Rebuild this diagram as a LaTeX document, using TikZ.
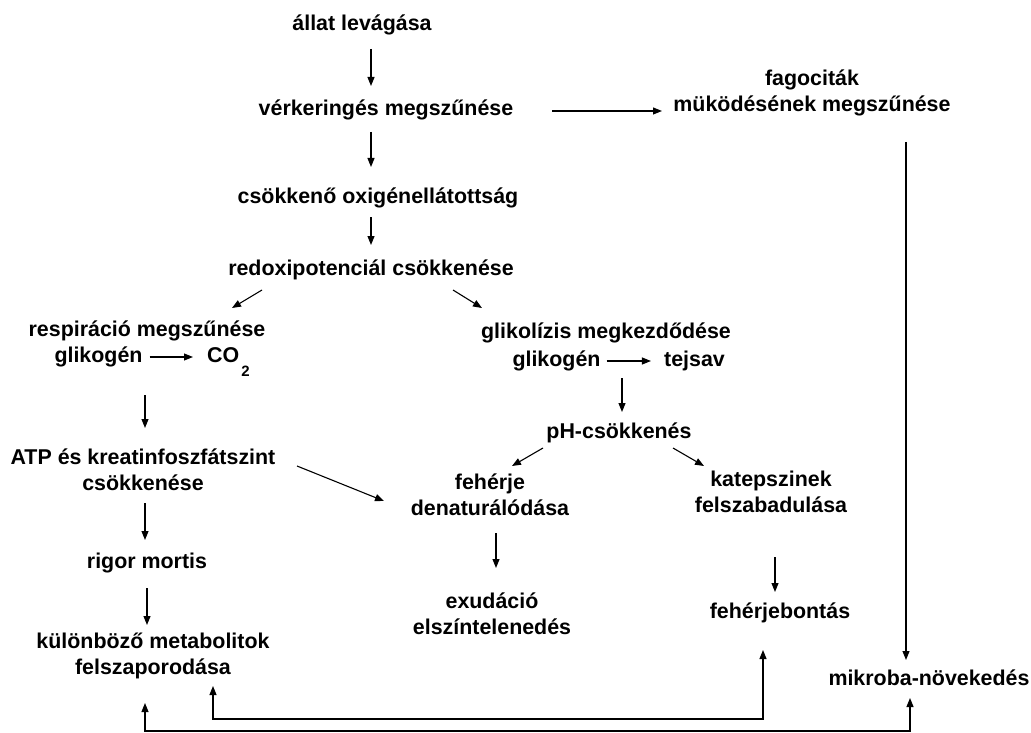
\documentclass[tikz,border=0pt]{standalone}
\usepackage{fontspec}
\setmainfont{Liberation Sans}
\usepackage{tikz}
\usetikzlibrary{arrows.meta}
\tikzset{
  szoveg/.style={font=\bfseries\fontsize{21.4}{26}\selectfont, inner sep=0pt, align=center},
  egysor/.style={szoveg, text height=16pt, text depth=5pt},
  nyil/.style={-{Triangle[length=9pt,width=7pt]}, line width=1.1pt},
  ketnyil/.style={{Triangle[length=9pt,width=7pt]}-{Triangle[length=9pt,width=7pt]}, line width=1.1pt}
}

\begin{document}
\begin{tikzpicture}[x=1pt,y=-1pt]
    \useasboundingbox (0,0) rectangle (1031,733);

    % Main chain
    \node[egysor] (levagas) at (362,25) {állat levágása};
    \node[egysor] (verkering) at (386,110) {vérkeringés megszűnése};
    \node[egysor] (oxigen) at (378,198) {csökkenő oxigénellátottság};
    \node[egysor] (redox) at (371,270) {redoxipotenciál csökkenése};
    \node[szoveg] (fagocit) at (812,92.5) {fagociták\\müködésének megszűnése};

    % Left branch - respiration
    \node[egysor] (respir) at (147,331) {respiráció megszűnése};
    \node[egysor] (glik1) at (98.5,357) {glikogén};
    \node[egysor, anchor=west] (co2) at (207,357) {CO\kern2pt\raisebox{-14pt}{\fontsize{15}{15}\selectfont 2}};
    \node[szoveg] (atp) at (143,470) {ATP és kreatinfoszfátszint\\csökkenése};
    \node[egysor] (rigor) at (147,563) {rigor mortis};
    \node[szoveg] (metabol) at (153,656) {különböző metabolitok\\felszaporodása};

    % Right branch - glycolysis
    \node[egysor] (glikol) at (606,333) {glikolízis megkezdődése};
    \node[egysor] (glik2) at (556.5,361) {glikogén};
    \node[egysor] (tejsav) at (694.5,361) {tejsav};
    \node[egysor] (ph) at (619,433) {pH-csökkenés};
    \node[szoveg] (feherje) at (490,495) {fehérje\\denaturálódása};
    \node[szoveg] (katep) at (771,492) {katepszinek\\felszabadulása};
    \node[szoveg] (exud) at (492,614) {exudáció\\elszíntelenedés};
    \node[egysor] (bontas) at (780,613) {fehérjebontás};
    \node[egysor] (mikroba) at (929,680) {mikroba-növekedés};

    % Arrows down the middle
    \draw[nyil] ([xshift=9pt,yshift=-24pt]levagas.center) -- ([xshift=-15pt,yshift=24pt]verkering.center);
    \draw[nyil] ([xshift=-15pt,yshift=-22pt]verkering.center) -- ([xshift=-7pt,yshift=31pt]oxigen.center);
    \draw[nyil] ([xshift=-7pt,yshift=-19pt]oxigen.center) -- ([yshift=25pt]redox.center);
    \draw[nyil] ([xshift=166pt,yshift=-1pt]verkering.center) -- ([xshift=-150pt,yshift=-18.5pt]fagocit.center);
    \draw[nyil] ([xshift=-109pt,yshift=-20pt]redox.center) -- ([xshift=85pt,yshift=23pt]respir.center);
    \draw[nyil] ([xshift=82pt,yshift=-20pt]redox.center) -- ([xshift=-124pt,yshift=25pt]glikol.center);

    % Left column
    \draw[nyil, shorten <=7pt, shorten >=14pt] (glik1.east) -- (glik1.east -| co2.west);
    \draw[nyil] ([xshift=-2pt,yshift=-64pt]respir.center) -- ([xshift=2pt,yshift=42pt]atp.center);
    \draw[nyil] ([xshift=2pt,yshift=-33pt]atp.center) -- ([xshift=-2pt,yshift=23pt]rigor.center);
    \draw[nyil] ([yshift=-25pt]rigor.center) -- ([xshift=-6pt,yshift=31pt]metabol.center);
    \draw[nyil] ([xshift=154pt,yshift=4pt]atp.center) -- ([xshift=-106pt,yshift=-6pt]feherje.center);

    % Right column
    \draw[nyil, shorten <=6pt, shorten >=13pt] (glik2.east) -- (tejsav.west);
    \draw[nyil] ([xshift=16pt,yshift=-45pt]glikol.center) -- ([xshift=3pt,yshift=21pt]ph.center);
    \draw[nyil] ([xshift=-76pt,yshift=-15pt]ph.center) -- ([xshift=22pt,yshift=29pt]feherje.center);
    \draw[nyil] ([xshift=54pt,yshift=-15pt]ph.center) -- ([xshift=-67pt,yshift=26pt]katep.center);
    \draw[nyil] ([xshift=6pt,yshift=-38pt]feherje.center) -- ([xshift=4pt,yshift=46pt]exud.center);
    \draw[nyil] ([xshift=4pt,yshift=-65pt]katep.center) -- ([xshift=-5pt,yshift=21pt]bontas.center);
    \draw[nyil] ([xshift=94pt,yshift=-49.5pt]fagocit.center) -- ([xshift=-23pt,yshift=20pt]mikroba.center);

    % Feedback lines at the bottom
    \draw[ketnyil] ([xshift=-8pt,yshift=-47pt]metabol.center) -- ++(0,28) -| ([xshift=-19pt,yshift=-18pt]mikroba.center);
    \draw[ketnyil] ([xshift=60pt,yshift=-30pt]metabol.center) -- ++(0,33) -| ([xshift=-17pt,yshift=-37pt]bontas.center);

\end{tikzpicture}
\end{document}
